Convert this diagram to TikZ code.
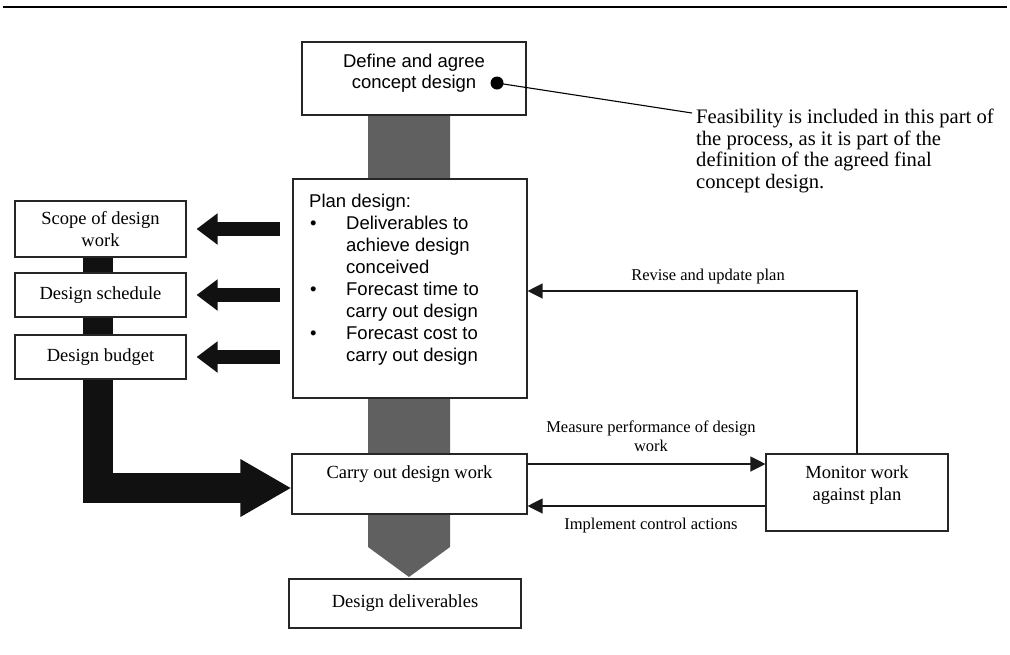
\documentclass[tikz,border=0pt]{standalone}
\usepackage{fontspec}
\setmainfont{Liberation Serif}
\setsansfont{Liberation Sans}
\usetikzlibrary{arrows.meta,calc,backgrounds}
\definecolor{barGray}{HTML}{606060}
\definecolor{barBlack}{HTML}{111111}
\begin{document}
\begin{tikzpicture}[x=1pt,y=-1pt,
  box/.style={draw=black!85,line width=1.1pt,fill=white,inner sep=0pt},
  btxt/.style={font=\fontsize{18.5}{22}\selectfont,align=center,inner sep=0pt},
  stxt/.style={font=\sffamily\fontsize{18.5}{20.5}\selectfont,align=center,inner sep=0pt},
  lbl/.style={font=\fontsize{16.5}{19}\selectfont,align=center,inner sep=0pt},
  thinarrow/.style={line width=1.2pt,draw=black!90,-{Triangle[length=15pt,width=15pt]}},
  fatarrow/.style={line width=14pt,draw=barBlack,-{Triangle[length=21pt,width=30pt]}},
]
\useasboundingbox (0,0) rectangle (1010,654);
\draw[line width=2.5pt] (3,7) -- (1007,7);

% boxes
\node[box,minimum width=224pt,minimum height=73pt] (top) at (414,78.5) {};
\node[stxt] (topT) at (414,73) {Define and agree\\concept design};
\node[box,minimum width=234pt,minimum height=219pt] (plan) at (410,288.5) {};
\node[anchor=north west,inner sep=0pt,font=\sffamily\fontsize{18.5}{21.9}\selectfont] (planT) at (309,192.3)
  {\begin{tabular}{@{}p{37pt}@{}l@{}}
  \multicolumn{2}{@{}l@{}}{Plan design:}\\
  \hspace{1pt}•&Deliverables to\\
  &achieve design\\
  &conceived\\
  \hspace{1pt}•&Forecast time to\\
  &carry out design\\
  \hspace{1pt}•&Forecast cost to\\
  &carry out design
  \end{tabular}};
\node[box,btxt,minimum width=171pt,minimum height=56pt] (scope) at (100.5,229) {Scope of design\\work};
\node[box,btxt,minimum width=171pt,minimum height=44pt] (sched) at (100.5,295) {Design schedule};
\node[box,btxt,minimum width=171pt,minimum height=44pt] (budget) at (100.5,357) {Design budget};
\node[box,minimum width=235pt,minimum height=60pt] (carry) at (409.5,484) {};
\node[btxt] (carryT) at (409.5,474) {Carry out design work};
\node[box,btxt,minimum width=232pt,minimum height=49pt] (deliv) at (405,603.5) {Design deliverables};
\node[box,minimum width=182pt,minimum height=77pt] (monitor) at (857,492.5) {};
\node[btxt] (monT) at (857,485.5) {Monitor work\\against plan};

% background bars
\begin{scope}[on background layer]
  \fill[barGray] (368,100) -- (450,100) -- (450,547) -- (409,577) -- (368,547) -- cycle;
  \draw[line width=30pt,draw=barBlack,line join=miter,-{Triangle[length=51pt,width=54pt]}]
    (98,240) |- ($(carry.west)+(0,4)$);
\end{scope}

% fat arrows to the left
\draw[fatarrow] ($(plan.west |- scope.east)+(-12,0)$) -- ($(scope.east)+(10,0)$);
\draw[fatarrow] ($(plan.west |- sched.east)+(-12,0)$) -- ($(sched.east)+(10,0)$);
\draw[fatarrow] ($(plan.west |- budget.east)+(-12,0)$) -- ($(budget.east)+(10,0)$);

% thin arrows
\coordinate (m1) at ($(carry.east)+(0,-20)$);
\draw[thinarrow] (m1) -- (m1 -| monitor.west);
\coordinate (i1) at ($(monitor.west)+(0,13.5)$);
\draw[thinarrow] (i1) -- (i1 -| carry.east);
\coordinate (rv) at (0,291);
\draw[thinarrow] (monitor.north) -- (monitor.north |- rv) -- (plan.east |- rv);

\node[lbl] (revL) at (708,277) {Revise and update plan};
\node[lbl] (measL) at (651,436.5) {Measure performance of design\\work};
\node[lbl] (implL) at (651,526) {Implement control actions};

% annotation
\node[circle,fill=black,inner sep=0pt,minimum size=13pt] (dot) at (497,83) {};
\node[anchor=north west,align=left,inner sep=0pt,font=\fontsize{20.6}{21.5}\selectfont] (feas) at (696,109)
  {Feasibility is included in this part of\\the process, as it is part of the\\definition of the agreed final\\concept design.};
\coordinate (feasEnd) at (692,113);
\draw[line width=1.1pt] (dot.center) -- (feasEnd);
\end{tikzpicture}
\end{document}
